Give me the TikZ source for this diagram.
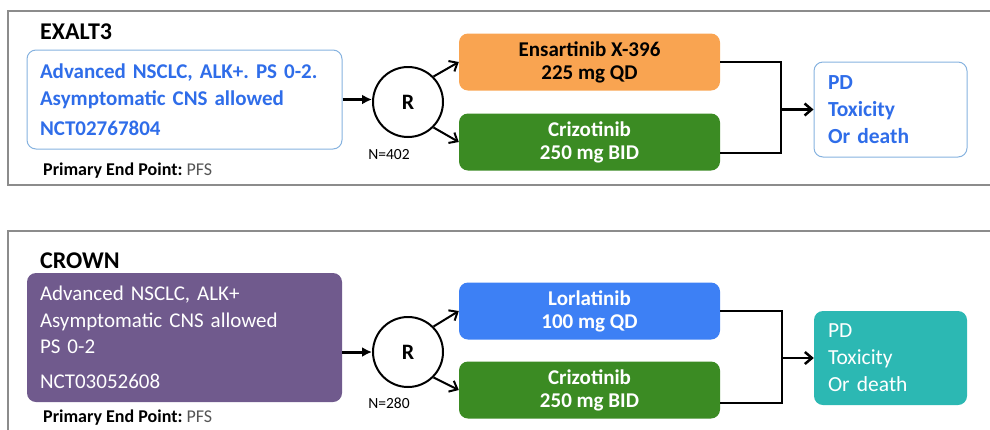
\documentclass[tikz,border=0pt]{standalone}
\usepackage{fontspec}
\setmainfont{Carlito}
\usetikzlibrary{arrows.meta}

\definecolor{framegray}{HTML}{8C8C8C}
\definecolor{boxblue}{HTML}{86B2DF}
\definecolor{textblue}{HTML}{2F6DE9}
\definecolor{armorange}{HTML}{F9A451}
\definecolor{armgreen}{HTML}{3B8B23}
\definecolor{armblue}{HTML}{3D80F5}
\definecolor{poppurple}{HTML}{705A8D}
\definecolor{outteal}{HTML}{2CB8B3}
\definecolor{pfsgray}{HTML}{555555}

\frenchspacing
\begin{document}
\begin{tikzpicture}[x=1pt,y=-1pt,
  panel/.style={draw=framegray,line width=1.4pt},
  trial/.style={anchor=base west,inner sep=0,font=\fontsize{24}{28}\selectfont\bfseries},
  popbox/.style={rounded corners=9pt,minimum width=315,inner xsep=13pt,text width=289pt,align=left,font=\fontsize{21}{27}\selectfont},
  endpoint/.style={anchor=base west,inner sep=0,font=\fontsize{18}{20}\selectfont},
  rand/.style={circle,draw,line width=2pt,minimum size=70,font=\fontsize{22}{26}\selectfont\bfseries},
  nlabel/.style={font=\fontsize{15.5}{18}\selectfont},
  armbox/.style={rounded corners=9pt,minimum width=261,minimum height=57,align=center,font=\fontsize{21}{23}\selectfont\bfseries},
  outbox/.style={rounded corners=9pt,minimum width=153,inner xsep=14pt,text width=125pt,align=left,font=\fontsize{21.5}{27}\selectfont},
  feed/.style={-{Latex[length=10pt,width=10pt]},line width=3pt},
  split/.style={-{Straight Barb[length=7pt,width=12pt]},line width=2pt},
  merge/.style={line width=2.5pt},
]
\useasboundingbox (0,0) rectangle (990,429);
\clip (0,0) rectangle (990,429);

% panel frames, open on the right
\draw[panel] (8,11) rectangle (1000,185);
\draw[panel] (8,231) rectangle (1000,445);

% EXALT3
\node[trial] (exalt) at (40,39) {EXALT3};
\node[popbox,draw=boxblue,line width=1pt,minimum height=99,text=textblue,font=\fontsize{21}{27}\selectfont\bfseries] (popA) at (184.5,99.5)
  {Advanced NSCLC, ALK+. PS 0-2.\\Asymptomatic CNS allowed\\[3pt]NCT02767804};
\node[endpoint] (epA) at (43,175) {\textbf{Primary End Point:} \textcolor{pfsgray}{PFS}};
\node[rand] (rA) at (408,102) {R};
\node[nlabel] (nA) at (389,155) {N=402};
\node[armbox,fill=armorange] (armA1) at (589.5,62) {Ensartinib X-396\\225 mg QD};
\node[armbox,fill=armgreen,text=white] (armA2) at (589.5,142) {Crizotinib\\250 mg BID};
\node[outbox,draw=boxblue,line width=1pt,minimum height=95,text=textblue,font=\fontsize{21.5}{27}\selectfont\bfseries] (outA) at (890.5,109.5)
  {PD\\Toxicity\\Or death};
\coordinate (jA) at (781,153);

\draw[feed] (popA.east) -- (popA.east -| rA.west);
\draw[split] (rA.45) -- (armA1.west);
\draw[split] (rA.-45) -- (armA2.west);
\draw[merge] (armA1.east) -| (jA) -- (armA2.east |- jA);
\draw[split,line width=2.5pt] (outA.west -| jA) -- (outA.west);

% CROWN
\node[trial] (crown) at (40,268) {CROWN};
\node[popbox,fill=poppurple,minimum height=129,text=white] (popB) at (184.5,337.5)
  {Advanced NSCLC, ALK+\\Asymptomatic CNS allowed\\[-1pt]PS 0-2\\[8pt]NCT03052608};
\node[endpoint] (epB) at (43,422) {\textbf{Primary End Point:} \textcolor{pfsgray}{PFS}};
\node[rand] (rB) at (408,352) {R};
\node[nlabel] (nB) at (389,403) {N=280};
\node[armbox,fill=armblue,text=white] (armB1) at (589.5,311) {Lorlatinib\\100 mg QD};
\node[armbox,fill=armgreen,text=white] (armB2) at (589.5,390) {Crizotinib\\250 mg BID};
\node[outbox,fill=outteal,minimum height=94,text=white] (outB) at (890.5,358)
  {PD\\Toxicity\\Or death};
\coordinate (jB) at (782,403);

\draw[feed] (popB.east |- rB) -- (rB.west);
\draw[split] (rB.45) -- (armB1.west);
\draw[split] (rB.-45) -- (armB2.west);
\draw[merge] (armB1.east) -| (jB) -- (armB2.east |- jB);
\draw[split,line width=2.5pt] (outB.west -| jB) -- (outB.west);
\end{tikzpicture}
\end{document}
